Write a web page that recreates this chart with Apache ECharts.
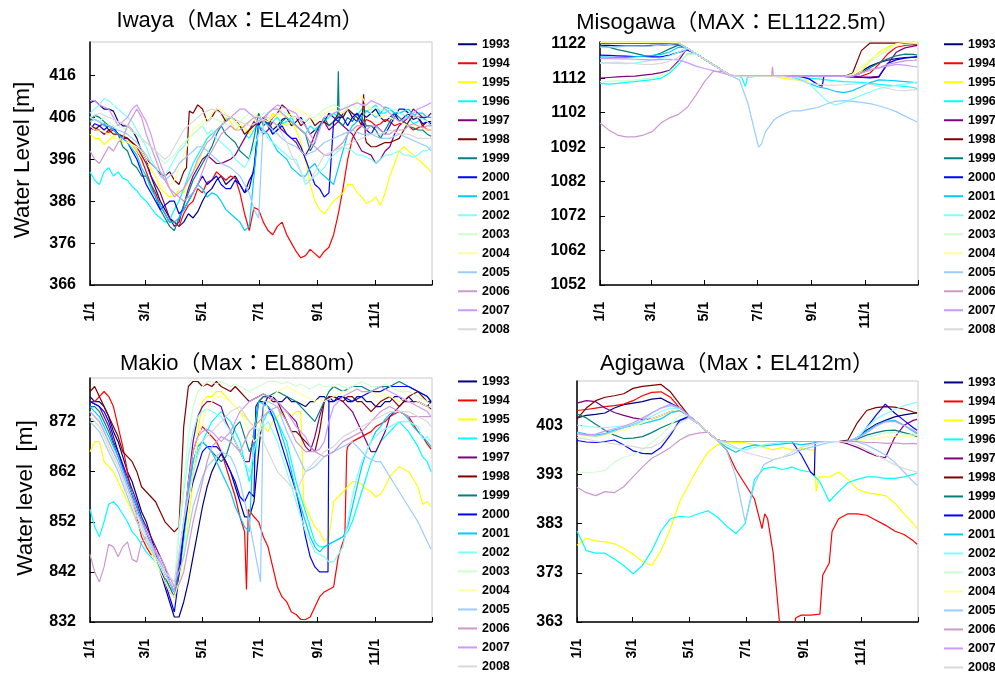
<!DOCTYPE html>
<html>
<head>
<meta charset="utf-8">
<script src="https://cdn.jsdelivr.net/npm/echarts@6/dist/echarts.min.js"></script>
<style>
  html, body { margin: 0; padding: 0; background: #ffffff; }
  #chart { width: 995px; height: 675px; }
</style>
</head>
<body>
<div id="chart"></div>
<script>
// Daily reservoir water levels (m) at four dams, one line per year 1993-2008.
const years = ['1993','1994','1995','1996','1997','1998','1999','2000',
               '2001','2002','2003','2004','2005','2006','2007','2008'];
const yearColors = ['#000080','#ff0000','#ffff00','#00ffff','#800080','#800000','#008080','#0000ff',
                    '#00ccff','#80ffff','#ccffcc','#ffff99','#99ccff','#cc99cc','#cc99ff','#d9d9d9'];

// sampling days (day of year, 0 = 1 Jan)
const days = [0,10,20,30,40,50,60,70,80,90,100,110,120,130,140,150,160,170,180,
              190,200,210,220,230,240,250,260,270,280,290,300,310,320,330,340,350,360,364];
// in-between days used where the record is more ragged
const midDays = [5,15,25,35,45,55,65,75,85,95,105,115,125,135,145,155,165,175,185,
                 195,205,215,225,235,245,255,265,275,285,295,305,315,325,335,345,355];

// x-axis ticks: first day of odd months
const tickDays = [0, 59, 120, 181, 243, 304];
const tickLabels = ['1/1', '3/1', '5/1', '7/1', '9/1', '11/1'];
const yearEnd = 365;

// ---- Iwaya (Max EL424m) ----
const iwayaTicks = [366, 376, 386, 396, 406, 416];
const iwayaLevels = [
  [409.5,409,408,405,404,401,396,389,384,381,381,382,386,389,392,391,390,391,404,405,404,406,405,404,403,405,406,407,406,407,407,406,406,405,407,406,405,404.5],
  [403.5,403,402.5,402,401,398,393,388,383,381,383,386,388,391,392,392,388,379,384,379,380,378,374,373,373.5,374,378,389,401,404,405,404.5,405,404.5,404,403.5,403,403],
  [402,401,400.5,402,401,398,395,392,388,387.5,388,393,398,402,404,405,404,402,407,405,406,404,403,396,386,383,386,388,390,387,386,385,392,398,398,396,394,393],
  [393,390,394,393,391,388.5,386,383,381,384,389,395,399,402,404,406,404,401,405,404,406,405,404,402,403,405,407,406,407,408,408,407,408,407,406,405,405,404],
  [404,403,403,402,401,399,395,390,385,380,385,392,396,396,395,396,399,403,404,403,404,402,400,397,402,405,404,404,402,398,397,396,399,404,406,407,406,407],
  [404,404,403,402,401,399,396,394,392,391,393,407,408,406,407,406,404,403,405,404,407,408,406,405,404,405,405,406,407,404,399,399.5,400,401,405,406,405,404],
  [405,406,404,402,398,394,392,387,382,379,385,391,395,399,404,401,398,396,407,405,403,406,404,402,400,406,405,404,405,406,404,401,405,406,404,403,402,401.5],
  [403,404,404,402,400,396,390,386,385,386,384,388,392,391,390,389,390,389,405,404,403,402,401,396,390,387,405,406,406,405,402,403,404,408,407,406,405,405],
  [406,405,404,402,400,397,392,387,383,381,384,388,389,388,386,383,381,380,404,402,398,396,393,392,395,392,390,398,404,406,407,407,408,407,408,407,406,406],
  [407,409,410,408,406,403,399,394,392,396,399,402,404,403,400,398,395,396,402,401,399,397,396,390,392,394,397,399,398,397,396,396,397,398,397,397,398,399],
  [406,405,405,404,403,402,400,398,395,397,400,402,404,406,405,404,405,407,406,407,408,407,406,405,406,408,409,408,409,409,408,408,408,407,407,406,405,404],
  [404,403,402,401,400,399,396,392,389,391,397,403,405,407,408,406,404,405,406,405,407,406,408,407,405,407,408,407,409,411,407,406,406,405,404,404,403,403],
  [405,405,404,403,402,400,397,394,391,393,396,398,399,397,395,394,392,388,382,404,402,400,399,397,398,400,401,402,403,402,402,401,401,402,401,400,399,398],
  [398,395,399,400,404,408,402,396,391,388,386,388,393,398,402,404,403,405,406,407,408,406,404,402,399,397,398,400,403,404,404,403,402,403,404,404,404,404],
  [410,409,408,404,406,409,405,398,392,387,389,393,398,401,404,406,408,407,405,407,409,408,407,404,400,406,407,408,409,409,410,409,407,405,406,408,409,409.5],
  [406,407,406,405,404,402,400,398,396,399,403,405,407,408,407,406,405,404,405,406,404,400,395,391,393,397,398,399,400,401,402,402,403,402,402,401,401,401]
];
const iwayaMidLevels = [
  [410,408,407.5,404,403,398,392,386,382,380,383,383.5,388,391,390,392,388,393,406,403,405.5,404,406,402,404,407,405,408,405,406,408,405,407,406,405.5,406],
  [403,402,403,401.5,399.5,396,390,385,381,380,385,389,390.5,393,391,391.5,383,384.5,381,378,381,376,372.5,374.5,372.5,375,383,396,403,405.5,404,405.5,404,405,403,404],
  [401,399.5,401.5,400,399.5,396.5,393.5,389,387,388.5,391,395,401,403,406,403,403.5,405,404,407,404.5,405,400,390,384,384.5,387,390,388,385.5,387,388,395,399,397,395],
  [391,393,392,391.5,389.5,387,384.5,382,381.5,386,392,397,401,403,405.5,405,402,403,406,405,404.5,406,403,404,404,406,406,408,406.5,407.5,409,407,407,406.5,404.5,406],
  [403.5,402,403.5,401,400,397,392,388,382,381,389,394,397,395,395.5,397,401,405,402,405,403,401,398,399,404,403,405,403,400,397.5,395,398,402,405,408,406],
  [403,404.5,402,401.5,400,398,395,392.5,393,390,404,409,405,408,405,405.5,402,404,406,406,409,406,404,406,405,404,407,408,406,400,399,400,400.5,403,406.5,404],
  [406.5,405,403,399,395,392,390,384,380,382,388,393,397,402,402,400,397,401,404,402,405,405,403,398,404,404,417,406,407,404,403,403,407,405,403.5,403],
  [404.5,403,403.5,401,398,393,388,384,386,383,386,390,390,392,389,391,388,394,406,402,404,401,399,393,389,388,406,404,407,403,404,402,406,408,406.5,404.5],
  [405.5,404,403,401,398.5,394,389,385,381,382,386,390,387,387.5,384,382,379,392,403,400,397,394,392,394,393,391,394,402,405,407.5,406,408.5,407,407.5,406.5,407],
  [408,410.5,409,407,405,401,396,393,394,398,401,403,402,401,399,396,394,399,403,400,398,396,393,391,393,396,398,398.5,397,396.5,395,397,397.5,397,396.5,398],
  [405.5,406,404,403.5,402.5,401,399,396,396,398.5,401,403,405,405.5,404.5,405,406,406.5,407,408,407.5,406,405.5,406,407,408.5,408.5,409,408,409,408.5,407.5,408,406.5,406.5,405.5],
  [403,402.5,401,400.5,399.5,398,394,390,390,394,400,404,406,408,407,405,404.5,406,405.5,406,406.5,407,407.5,406,406,407.5,407.5,408,410,409,406.5,406.5,405.5,404.5,404,403.5],
  [405.5,404.5,403.5,402.5,401,398.5,395,392,392,395,397,399,398,396,394.5,393,390,384,405,403,401,399.5,398,397.5,399,400.5,401.5,402.5,402.5,402,401.5,401,401.5,401.5,400.5,399.5],
  [396,397,398,401,406,406,399,393,389,387,387,390,396,400,403,403,404,406,405,408,407,405,403,400,398,397,399,402,404,403,404,402,403,403,404.5,403.5],
  [410,408.5,406,405,408,407,402,395,389,388,391,396,400,403,405,407,408,406,406,408,408.5,407.5,405,402,403,406.5,407.5,408.5,409.5,409,409.5,408,406,405.5,407,408.5],
  [406.5,406.5,405.5,404.5,403,401,399,397,397,401,404,406,407.5,407.5,406.5,405.5,404.5,404.5,405.5,405,402,397,393,391,395,397.5,398.5,399.5,400.5,401.5,402,402.5,402.5,402,401.5,401]
];
const iwayaExtra = {
  '1998': [[103,394],[106,407.5],[292,411.5],[294,401]],
  '1999': [[264,406],[266,405]]
};

// ---- Misogawa (MAX EL1122.5m) ----
const misogawaTicks = [1052, 1062, 1072, 1082, 1092, 1102, 1112, 1122];
const misogawaLevels = [
  [1121.5,1121.5,1121.4,1121.3,1121.3,1121.4,1121.5,1121.6,1121.7,1121.8,1120.7,1119.1,1117.5,1115.9,1114.3,1112.7,1112.5,1112.5,1112.5,1112.5,1112.5,1112.5,1112.5,1112.5,1112.5,1112.5,1112.5,1112.5,1112.5,1112.5,1114,1115.5,1116.5,1117.2,1117.7,1118,1118.1,1118.2],
  [1122.2,1122.2,1122.2,1122.2,1122.2,1122.2,1122.2,1122.2,1122.2,1122.2,1120.7,1119.1,1117.5,1115.9,1114.3,1112.7,1112.5,1112.5,1112.5,1112.5,1112.5,1112.5,1112.5,1112.5,1112.5,1112.5,1112.5,1112.5,1112.5,1112.5,1112.6,1113.5,1116,1119,1121,1121.5,1121.7,1121.7],
  [1122.3,1122.3,1122.3,1122.3,1122.3,1122.3,1122.3,1122.3,1122.3,1122.3,1120.7,1119.1,1117.5,1115.9,1114.3,1112.7,1112.5,1112.5,1112.5,1112.5,1112.5,1112,1111.6,1111.4,1111.5,1112,1112.5,1112.5,1112.5,1112.5,1114,1117,1119.5,1121,1122,1122.3,1122.3,1122.3],
  [1110.5,1110.3,1110.5,1110.8,1111,1111.3,1111.6,1112,1113.5,1116,1119,1119.1,1117.5,1115.9,1114.3,1112.7,1112.5,1112.5,1112.5,1112.5,1112.5,1112.5,1112.5,1112.3,1112,1111.8,1111.5,1111.2,1111,1110.9,1110.8,1110.5,1110.2,1110,1109.8,1109.6,1109.3,1109],
  [1112,1112.2,1112.4,1112.5,1112.6,1112.9,1113.2,1113.6,1114.3,1117,1120.7,1119.1,1117.5,1115.9,1114.3,1112.7,1112.5,1112.5,1112.5,1112.5,1112.5,1112.5,1112.5,1112.5,1112.5,1112.5,1112.5,1112.5,1112.5,1112.4,1112.3,1112.3,1112.5,1116,1119.5,1120.8,1121.3,1121.5],
  [1122.2,1122.2,1122.2,1122.2,1122.2,1122.2,1122.2,1122.2,1122.2,1122.2,1120.7,1119.1,1117.5,1115.9,1114.3,1112.7,1112.5,1112.5,1112.5,1112.5,1112.5,1112.5,1112.5,1112.5,1112.5,1112.5,1112.5,1112.5,1112.5,1113.5,1120,1122.2,1122.2,1122.2,1122.2,1122.1,1121.8,1121.6],
  [1121.4,1121,1120.3,1119.8,1119.2,1118.6,1118.4,1119.3,1120.5,1121.6,1120.7,1119.1,1117.5,1115.9,1114.3,1112.7,1112.5,1112.5,1112.5,1112.5,1112.5,1112.5,1112.5,1112.5,1112.5,1112.5,1112.5,1112.5,1112.5,1112.6,1113.5,1115,1116.5,1117.6,1118.5,1119,1118.9,1118.7],
  [1118.7,1118.6,1118.5,1118.4,1118.3,1118.3,1118.2,1118.2,1118.7,1119.5,1120.2,1119.1,1117.5,1115.9,1114.3,1112.7,1112.5,1112.5,1112.5,1112.5,1112.5,1112.5,1112.5,1112.5,1111.8,1110.2,1112.5,1112.5,1112.5,1112.4,1112.2,1112.1,1112.3,1116.3,1117.3,1117.8,1118.1,1118.2],
  [1118.2,1118.1,1118,1118,1118.2,1118.4,1118.6,1118.9,1119.6,1121,1120.7,1119.1,1117.5,1115.9,1114.3,1112.7,1112.5,1112.5,1112.5,1112.5,1112.5,1112.5,1112.5,1111.5,1110.5,1109.5,1109,1108.2,1107.8,1108.4,1109.5,1110.7,1111.5,1111.4,1111.2,1111,1110.8,1110.6],
  [1116.5,1116.4,1116.3,1116.2,1116.4,1116.8,1117.2,1117.8,1118.5,1119.5,1120.7,1119.1,1117.5,1115.9,1114.3,1112.7,1112.5,1112.5,1112.5,1112.5,1112.5,1112.5,1112.5,1111.8,1110.5,1108,1105.5,1104.2,1105,1106,1107,1108,1109,1109.5,1110,1110.3,1110.7,1110.9],
  [1111,1111.1,1111.2,1111.3,1111.5,1111.8,1112.1,1112.8,1114,1116.5,1118.8,1119.1,1117.5,1115.9,1114.3,1112.7,1112.5,1112.5,1112.5,1112.5,1112.5,1112.5,1112.5,1112.5,1112.5,1112.5,1112.5,1112.5,1112.5,1113.2,1115,1116.8,1118.5,1120,1121.3,1121.8,1122,1122],
  [1122.3,1122.3,1122.3,1122.3,1122.3,1122.3,1122.3,1122.3,1122.3,1122.3,1120.7,1119.1,1117.5,1115.9,1114.3,1112.7,1112.5,1112.5,1112.5,1112.5,1112.5,1112.5,1112.5,1112.5,1112.5,1112.5,1112.5,1112.5,1112.5,1113,1115.5,1117.5,1119,1120.5,1122,1122.3,1122.3,1122.3],
  [1121,1121,1121.1,1121.2,1121.2,1121.3,1121.4,1121.6,1121.8,1122,1120.7,1119.1,1117.5,1115.9,1114.3,1112.7,1111.5,1104.5,1094,1096.5,1100,1101.5,1102.5,1102.5,1103,1103.5,1104.5,1105.3,1105.5,1105.3,1105,1104.6,1104,1103.2,1102.3,1101,1099.8,1099.3],
  [1099,1097,1095.5,1095,1095,1095.5,1096.5,1099,1100.5,1101.5,1103.5,1107,1111,1114,1114,1113,1112.5,1112.5,1112.5,1112.5,1112.5,1112.5,1112.5,1112.5,1112.5,1112.5,1112.5,1112.5,1112.5,1112.6,1113.5,1114.3,1115,1116,1116.5,1117,1117.2,1117.3],
  [1117.7,1117.7,1117.6,1117.6,1117.5,1117.4,1117.3,1117.4,1117.5,1117.3,1116.5,1115.5,1114.8,1114.2,1113.5,1112.8,1112.5,1112.5,1112.5,1112.5,1112.5,1112.5,1112.5,1112.5,1112.5,1112.5,1112.5,1112.5,1112.5,1112.6,1113.5,1114.5,1115,1115.5,1116,1115.8,1115.4,1115.3],
  [1116.3,1116.5,1116.6,1116.4,1116.2,1116,1116,1116.3,1117,1118,1120.7,1119.1,1117.5,1115.9,1114.3,1112.7,1112.5,1112.5,1112.5,1112.5,1112.5,1112.5,1112,1111.3,1110.6,1110.2,1110,1110,1110.1,1110.3,1110.5,1110.2,1109.6,1109,1108.5,1108.4,1108.6,1108.7]
];
const misogawaExtra = {
  '1996': [[163,1112],[167,1109.6],[169,1112.3]],
  '2000': [[255,1109.7],[257,1112.5]],
  '2005': [[182,1092],[185,1092.8]],
  '2006': [[197,1112.5],[198,1115.3],[199,1112.5]]
};

// ---- Makio (Max EL880m) ----
const makioTicks = [832, 842, 852, 862, 872];
const makioLevels = [
  [877,876,873,868,862,857,852,846,839,833,836,845,855,862,865.5,862,856,853,866,877,876,877,876,875,876,877,876,877,876,877,876,875,876,877,877,876,875,876],
  [876,877,877,871,862,853,847,845,840,837,850,866,871,869,866,860,853,854.5,852,847,839,836,833.5,832.5,835,838,839,848,868,869,870,871.5,873,874,873,870,867.5,866.5],
  [866,868,863,860,856,852,848,845,841,838,845,860,876,877,878,876,874,872,872,870,873,874,874,855,851,848,856,858,860,859.5,858,857.5,861,863,862,859,856,855],
  [854.5,849,855.5,855,852,849,846,844,841,838,848,862,868,872,874,872,868,860,870,874,872,868,860,854,848,847,848,849,852,858,864,868,870,872,870,867,864,862],
  [876,875,871,866,861,856,851,847,843,838,850,868,875,876,875,870,866,864,876,877,876,874,872,867,869,876,877,876,874,870,866,868,873,875,876,876,875,874.5],
  [878,877,873,869,865,862,858,856,852,850,871,880,879,879,879,878,878,876,877,877,876,872,870,868,866,876,877,876,877,876,874,876,877,875,877,878,876,876],
  [875,874,870,865,860,855,850,845,841,837,850,864,868,866,864,868,872,866,876,877,878,877,876,874,872,876,879,878,879,879,878,879,879,880,879,878,877,876],
  [876,875,872,866,860,855,850,846,840,834,850,860,866,867,866,862,857,858,876,875,870,864,858,849,843,842,876,877,876,877,878,878,879,879,879,878,877,876],
  [875,873,869,865,860,855,850,846,842,838,852,864,868,866,862,858,853,850,876,875,872,866,858,852,847,847,848,849,855,863,868,871,873.5,874,872.5,870,868,867],
  [874,872,868,864,859,854,849,846,842,839,858,870,874,874,873,870,866,862,870,872,868,862,856,850,846,845,844,847,857,864,868,870,871,872,872,871,869,868],
  [874,872,868,864,859,854,849,845,841,839,860,875,879,880,880,879,879,878,879,880,880,880,879,879,879,879,879,879,879,880,879,879,879,878,878,877,876,875],
  [873,871,867,862,857,852,848,844,840,837,845,862,872,876,877,876,874,870,869,876,878,879,878,877,876,876,877,878,878,878,878,877,877,876,876,876,875,874],
  [872,870,866,862,857,852,848,845,842,840,845,855,861,864,866,865,860,852,842,876,875,870,866,862,863,865,866,867,868,866,864.5,864,861,858,855,852,848,846.5],
  [845.5,840,847.5,845,848,844,849,846,843,839,842,852,860,867,869,868,866,870,872,874,875,872,868,866,866,865,866,868,869,870,872,874,875,874,873,873,873,873],
  [874,872,868,864,859,854,850,846,842,838,852,866,870,870,868,870,874,876,877,877,876,874,871,869,866,868,875,877,878,878,878,879,878,877,876,875,874,873],
  [873,871,867,863,858,853,849,845,842,840,852,862,868,870,872,874,875,872,870,866,862,860,858,862,864,866,867,869,870,871,872,873,874,874,874,873,872,871]
];
const makioMidLevels = [
  [876,875,870,865,860,854,849,842,836,833,840,850,859,864,864,859,853,856,875,877,876,876,875.5,876,877,876,877,876,877,876,875,876,877,876,876,875.5],
  [876,878,875,867,857,849,845.5,843,838,840,860,869,870,868,863,857,850,853,849,843,837,834,832.5,833,837,838.5,845,867,868.5,869.5,871,872,873.5,873.5,871.5,869],
  [868,864,862,858,854,850,846,843,839,840,852,870,877,878,877,875,873,871,871,872,874,873,874,853,850,849,857,859,860,858.5,857,859,862,862.5,860.5,855.5],
  [851,852,856,853.5,850,847.5,845,842.5,839,842,856,866,870,873,873,870,864,864,872,873,870,864,857,851,847,847.5,848.5,850,855,861,866,869,871,871,868.5,865],
  [875.5,873,868,863.5,858.5,853,849,845,840,843,860,873,876,875.5,872,868,864,870,877,876.5,875,873,869,866,873,876.5,876.5,875,872,868,866,870,874,876,876,875.5],
  [879,875,871,866,864,859,857,854,851,851,879,880,879.5,880,878.5,879,877,876.5,877.5,876,874,870,869,867,870,877,876.5,877,876,875,875,876.5,876,876,877.5,877],
  [875,872,867.5,862.5,857.5,852,847.5,843,839,842,858,867,867,865,865,871,869,868,877,877.5,877.5,876.5,875,873,874,878,878.5,878.5,879,878.5,878.5,879,879.5,879.5,878.5,877.5],
  [875.5,874,869,863,857.5,852.5,848,843,837,841,856,863,867,867,864,860,856,857,876,873,867,861,854,845,842,877,876.5,876.5,876.5,877.5,878,878.5,879,879,878.5,877.5],
  [874,871,867,862.5,857.5,852.5,848,844,840,845,858,867,867,864,860,855,851,870,875.5,874,869,862,855,849,846,847.5,848.5,851,859,866,870,872.5,874,873.5,871,869],
  [873,870,866,861.5,856.5,851.5,847.5,844,840,850,865,873,874.5,873.5,871.5,868,864,866,871,870,865,859,853,848,845.5,844,845.5,852,861,866,869,870.5,871.5,872,871.5,868.5],
  [873,870,866,861.5,856.5,851.5,847,843,840,851,869,878,880,879.5,879.5,879.5,878.5,878.5,879.5,880,879.5,879.5,879.5,878.5,879.5,879,879.5,878.5,879.5,879.5,879,879.5,878.5,878,877.5,876.5],
  [872,869,864.5,859.5,854.5,850,846,842,838,840,854,868,874.5,877,876.5,875,872,868,873,877,878.5,878.5,877.5,876.5,876.5,876.5,877.5,878,878.5,878,877.5,877.5,876.5,876.5,875.5,875.5],
  [871,868,864,859.5,854.5,850,846.5,843.5,841,842,850,858,863,865,865.5,863,856,847,876,875.5,872.5,868,864,862.5,864,865.5,866.5,867.5,867,865,864,862.5,859.5,856.5,853.5,850],
  [842,843,847,847,844.5,848,847,845,841,839.5,847,856,864,868,868.5,867,868,871,873,874.5,873.5,870,867,866,865.5,865.5,867,868.5,869.5,871,873,874.5,874.5,873.5,873,873],
  [873,870,866,861.5,856.5,852,848,844,840,845,860,869,870.5,869,869,872,875,876.5,877.5,876.5,875,872.5,870,867,866.5,872,876,877.5,878.5,878,878.5,878.5,877.5,876.5,875.5,874.5],
  [872,869,865,860.5,855.5,851,847,843.5,841,846,857,865,869,871,873,874.5,873.5,871,868,864,861,859,860,863,865,866.5,868,869.5,870.5,871.5,872.5,873.5,874,874,873.5,872.5]
];
const makioExtra = {
  '1994': [[167,838.5],[169,854.5],[262,839],[272,849],[274,866]],
  '1995': [[226,874],[228,856]],
  '2000': [[177,875],[254,842]],
  '2005': [[182,840]]
};

// ---- Agigawa (Max EL412m) ----
const agigawaTicks = [363, 373, 383, 393, 403];
const agigawaLevels = [
  [404.5,405,405.2,405.5,406.5,407.2,407.5,407.8,408.3,408.5,407.5,406.5,404.9,403.3,401.6,400,399.7,399.7,399.7,399.7,399.7,399.7,399.7,399.7,399.7,399.7,399.7,399.7,399.7,399.7,400.5,402,403.2,404,404.7,405.1,405.4,405.5],
  [406,406.2,406.5,406.8,407,407.3,408,409,409.7,409.8,408.7,406.5,404.9,403.3,401.6,400,398,394,391,388,384,377,356,357,364.4,364.4,364.6,375,384,385,385,384.7,383.7,382.7,381.5,380.8,379.5,378.8],
  [378.6,380,379.5,379.3,378.9,378,376.8,375.3,374.5,377.5,382,387.5,391,394.5,397.5,399,399.6,399.5,399.5,399,398.5,398,398.5,398,398.3,398,392.5,392.5,393.5,392,390,389.3,389,388.7,387.2,385,383,382],
  [381.5,377.5,377,377,375.8,374.5,372.8,374.5,377.5,381.5,384,384.5,384.3,385,385.6,384.4,382.5,381,383,392,394.2,394.5,394,394.5,393.8,393.5,391.5,387.5,389.5,391.3,392,392.5,392.5,392.2,392.2,392.5,393,393.3],
  [407.5,408,407.8,406.5,405.6,405,404.5,404.2,404.3,405,405.8,406,404.9,403.3,401.6,400,399.7,399.7,399.7,399.7,399.7,399.7,399.7,399.7,399.7,399.7,399.7,399.7,399.7,399.2,398.5,397.6,396.8,396.4,400.5,403,404,404.2],
  [404.3,406.5,408,408.7,409,409.4,410.5,410.9,411.1,411.3,409.8,407.3,404.9,403.3,401.6,400,399.7,399.7,399.7,399.7,399.7,399.7,399.7,399.7,399.7,399.7,399.7,399.7,399.7,400,403.5,406,406.6,406.8,406.7,406.3,405.7,405.5],
  [405.3,404.5,403.2,402,401,400.3,400.4,400.7,401.5,402.5,403.3,404,404.5,403.3,401.6,400,399.7,399.7,399.7,399.7,399.7,399.7,399.7,399.7,399.7,399.7,399.7,399.7,399.7,399.8,400.2,401,401.5,401.9,402,401.5,401,400.6],
  [399.9,399.6,399.5,399.7,400,399,397.8,397.3,397.2,398.5,401,404,404.9,403.3,401.6,400,399.7,399.7,399.7,399.7,399.7,399.7,399.7,399.7,397,393.5,399.7,399.7,399.7,399.7,400,402.5,405,407.3,405.5,404,402.5,402],
  [401.6,401.2,401,401.3,402,402.5,403,403.3,403.8,404.3,405.5,406,404.9,403.3,401.6,400,398.5,397.5,398.5,399,398.8,399,399.2,399.4,399,399.3,399.7,399.7,399.7,399.7,400.5,401.8,403,403.8,404,403,401.8,401.3],
  [403,402.8,402.6,402.5,402.7,402.9,403,403.8,404.8,405.8,406.5,406.4,404.9,403.3,401.6,400,399,398.3,398,398.5,399,399.3,399.5,399.6,399.7,399.7,399.7,399.7,399.7,399.7,400.5,402.5,404.3,405.3,406.2,407,407.5,407.7],
  [393.5,393.4,393.5,393.8,395.5,396.5,397,398,399.5,401,403,405,404.9,403.3,401.6,400,399.7,399.7,399.7,399.7,399.7,399.7,399.7,399.7,399.7,399.7,399.7,399.7,399.7,399.7,400,400.5,401,401.5,401.5,401.2,401,401],
  [401,400.8,400.6,401,401.5,402,402.7,403.5,404.3,405,405.8,406.2,404.9,403.3,401.6,400,399.7,399.7,399.7,399.7,399.7,399.7,399.7,399.7,399.7,399.7,399.7,399.7,399.7,399.7,399.8,400,400.3,400.6,400.8,400.8,400.6,400.5],
  [401.5,401,400.8,401.2,401.8,402.5,403.2,404,405.5,406.5,407,406.5,404.9,403.3,401.6,400,398,392.5,383.4,391,395,396,396.5,397,398,398.5,399,399.5,399.7,399.7,399.6,399,398,397,395.5,393.5,391.5,390.8],
  [390.4,389.3,388.7,389.5,389.3,390.5,392.5,394.5,396.3,397.3,398.5,400,401,401.4,401.6,400,399.7,399.7,399.7,399.7,399.7,399.7,399.7,399.7,399.7,399.7,399.7,399.7,399.7,399.7,399.7,399.5,399.5,399.3,399.4,399.2,399.3,399.2],
  [401.3,401,401.2,401.8,402.3,402.8,403.5,404.5,405.5,406.5,407.3,406.5,404.9,403.3,401.6,400,399.7,399.7,399.7,399.7,399.7,399.7,399.7,399.7,399.7,399.7,399.7,399.7,399.7,399.7,400.3,401.5,402.8,403.7,403.8,403,402,401.5],
  [400.5,400.2,399.8,399.5,399.2,398.9,398.7,398.3,398.5,399.5,401.5,403.5,404.5,403.3,401.6,400,399.5,398.5,397.5,397,396.5,396,396.5,397.5,398.5,399,399.5,399.7,399.7,399.5,399,398,397,396,395,394.2,393.7,393.5]
];
const agigawaExtra = {
  '1994': [[198,382],[201,385],[204,384],[234,363.8],[261,365],[263,372.5],[273,381.4]],
  '1995': [[254,398],[256,389.5],[259,392.5]],
  '2000': [[254,392.8],[255,399.7]]
};

// ---------------------------------------------------------------------------
const latin = "'Liberation Sans', Arial, 'Noto Sans CJK JP', sans-serif";

const panels = [
  { title: 'Iwaya（Max：EL424m）', titleX: 240, titleY: 21,
    grid: { left: 90, top: 42, width: 342, height: 243 },
    yMin: 366, yMax: 424, yTicks: iwayaTicks,
    levels: iwayaLevels, midLevels: iwayaMidLevels, extra: iwayaExtra,
    legend: { left: 457, top: 38 } },
  { title: 'Misogawa（MAX：EL1122.5m）', titleX: 738, titleY: 23,
    grid: { left: 600, top: 42, width: 318, height: 243 },
    yMin: 1052, yMax: 1122.5, yTicks: misogawaTicks,
    levels: misogawaLevels, midLevels: null, extra: misogawaExtra,
    legend: { left: 943, top: 38 } },
  { title: 'Makio（Max：EL880m）', titleX: 244, titleY: 364,
    grid: { left: 90, top: 378, width: 342, height: 244 },
    yMin: 832, yMax: 880.7, yTicks: makioTicks,
    levels: makioLevels, midLevels: makioMidLevels, extra: makioExtra,
    legend: { left: 457, top: 375.2 } },
  { title: 'Agigawa（Max：EL412m）', titleX: 737, titleY: 364,
    grid: { left: 577, top: 381, width: 341, height: 241 },
    yMin: 363, yMax: 412, yTicks: agigawaTicks,
    levels: agigawaLevels, midLevels: null, extra: agigawaExtra,
    legend: { left: 943, top: 376.2 } }
];

function seriesData(values, midValues, extraPts) {
  const pts = days.map((d, i) => [d, values[i]]);
  if (midValues) midDays.forEach((d, i) => pts.push([d, midValues[i]]));
  if (extraPts) extraPts.forEach(p => pts.push(p));
  pts.sort((a, b) => a[0] - b[0]);
  return pts;
}

const grids = [], xAxes = [], yAxes = [], legends = [], series = [], graphics = [];

panels.forEach((p, pi) => {
  grids.push(Object.assign({ show: true, borderColor: '#c8c8c8', borderWidth: 1,
                              backgroundColor: '#ffffff', containLabel: false }, p.grid));
  xAxes.push({
    gridIndex: pi, type: 'value', min: 0, max: yearEnd,
    axisLine: { show: true, onZero: false, lineStyle: { color: '#000', width: 1.5 } },
    axisTick: { show: true, inside: true, length: 5, lineStyle: { color: '#000', width: 1 },
                customValues: tickDays.concat([yearEnd]) },
    axisLabel: { show: true, customValues: tickDays, rotate: 90, margin: 17,
                 fontFamily: latin, fontSize: 14, fontWeight: 'bold', color: '#000',
                 formatter: v => tickLabels[tickDays.indexOf(v)] || '' },
    splitLine: { show: false }
  });
  yAxes.push({
    gridIndex: pi, type: 'value', min: p.yMin, max: p.yMax,
    axisLine: { show: true, onZero: false, lineStyle: { color: '#000', width: 1.5 } },
    axisTick: { show: true, inside: true, length: 5, lineStyle: { color: '#000', width: 1 },
                customValues: p.yTicks },
    axisLabel: { show: true, customValues: p.yTicks, margin: 14,
                 fontFamily: latin, fontSize: 16, fontWeight: 'bold', color: '#000',
                 formatter: v => String(v) },
    splitLine: { show: false }
  });
  legends.push({
    orient: 'vertical', left: p.legend.left, top: p.legend.top, height: 300, padding: 0,
    itemWidth: 19, itemHeight: 13, itemGap: 6.5, selectedMode: false,
    itemStyle: { opacity: 0 },
    lineStyle: { width: 2, opacity: 1 },
    textStyle: { fontFamily: latin, fontSize: 12.5, fontWeight: 'bold', color: '#000' },
    data: years
  });
  years.forEach((y, k) => {
    series.push({
      type: 'line', name: y, xAxisIndex: pi, yAxisIndex: pi,
      data: seriesData(p.levels[k], p.midLevels ? p.midLevels[k] : null, p.extra[y]),
      symbol: 'none', showSymbol: false, clip: true, silent: true,
      lineStyle: { color: yearColors[k], width: 1.2 },
      itemStyle: { color: yearColors[k] },
      emphasis: { disabled: true }
    });
  });
  graphics.push({
    type: 'text', x: p.titleX, y: p.titleY, silent: true,
    style: { text: p.title, fontFamily: latin, fontSize: 22, fill: '#000',
             textAlign: 'center', textVerticalAlign: 'middle' }
  });
});

// y-axis names on the left-hand panels
graphics.push({
  type: 'text', x: 23, y: 160, rotation: Math.PI / 2, silent: true,
  style: { text: 'Water Level [m]', fontFamily: latin, fontSize: 22.5, fill: '#000',
           textAlign: 'center', textVerticalAlign: 'middle' }
});
graphics.push({
  type: 'text', x: 26, y: 498, rotation: Math.PI / 2, silent: true,
  style: { text: 'Water level  [m]', fontFamily: latin, fontSize: 22.5, fill: '#000',
           textAlign: 'center', textVerticalAlign: 'middle' }
});

const chart = echarts.init(document.getElementById('chart'), null, { renderer: 'canvas' });
chart.setOption({
  animation: false,
  backgroundColor: '#ffffff',
  grid: grids,
  xAxis: xAxes,
  yAxis: yAxes,
  legend: legends,
  series: series,
  graphic: graphics
});
</script>
</body>
</html>
